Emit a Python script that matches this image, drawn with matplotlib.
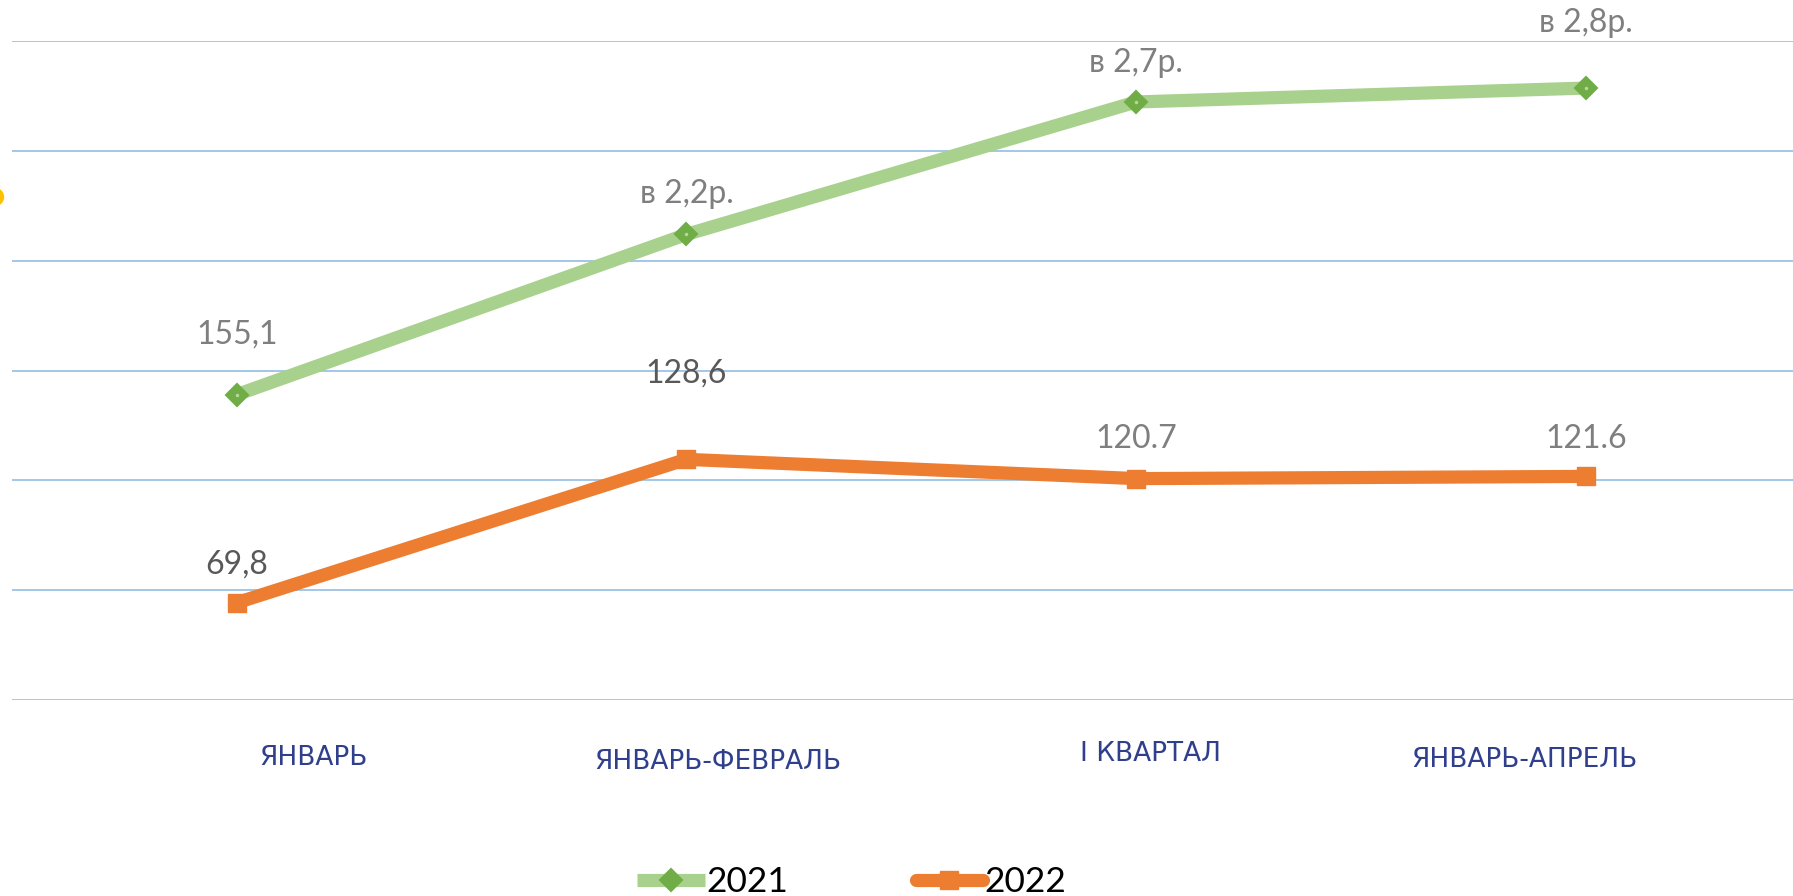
import matplotlib
matplotlib.use('Agg')
import matplotlib.pyplot as plt
from matplotlib.patches import Circle

categories = ['ЯНВАРЬ', 'ЯНВАРЬ-ФЕВРАЛЬ', 'I КВАРТАЛ', 'ЯНВАРЬ-АПРЕЛЬ']
series_names = ['2021', '2022']
vals_2021 = [155.1, 220.8, 275.1, 280.8]
vals_2022 = [69.8, 128.6, 120.7, 121.6]
labels_2021 = ['155,1', 'в 2,2р.', 'в 2,7р.', 'в 2,8р.']
labels_2022 = ['69,8', '128,6', '120.7', '121.6']

# label offsets above the points, in pixels (placed by hand in the original)
off_2021 = [60, 40, 39, 65]
off_2022 = [38, 86, 40, 37]
# category label shifts (x, y) in pixels, also hand placed in the original
cat_dx = [77, 31, 14, -61]
cat_dy = [-58, -62, -54, -60]

green_line = '#a9d18e'
green_mark = '#70ad47'
orange = '#ed7d31'
grid_col = '#9dc3e6'
cat_col = '#2f3f8c'

fig = plt.figure(figsize=(17.93, 8.96), dpi=100)
ax = fig.add_axes([0.00658, 0.2189, 1.0033, 0.7351])

x = list(range(len(categories)))

l1, = ax.plot(x, vals_2021, color=green_line, lw=9.5, marker='D', ms=11.5,
              mfc=green_mark, mec=green_mark, mew=1.5, solid_capstyle='butt',
              label=series_names[0], zorder=3)
ax.plot(x, vals_2021, ls='none', marker='o', ms=2.5, mfc='#b5d99c', mec='none', zorder=4)
l2, = ax.plot(x, vals_2022, color=orange, lw=9.5, marker='s', ms=13,
              mfc=orange, mec=orange, solid_capstyle='round',
              label=series_names[1], zorder=3)

for i in x:
    ax.annotate(labels_2021[i], (i, vals_2021[i]), xytext=(0, off_2021[i]),
                textcoords='offset pixels', ha='center', va='center',
                fontsize=23, color='#7f7f7f', family='Lato', annotation_clip=False)
    c = '#595959' if i < 2 else '#7f7f7f'
    ax.annotate(labels_2022[i], (i, vals_2022[i]), xytext=(0, off_2022[i]),
                textcoords='offset pixels', ha='center', va='center',
                fontsize=23, color=c, family='Lato', annotation_clip=False)
    ax.annotate(categories[i], (i, 0), xycoords=('data', 'axes fraction'),
                xytext=(cat_dx[i], cat_dy[i]), textcoords='offset pixels',
                ha='center', va='center', fontsize=19, color=cat_col,
                family=['Liberation Sans Narrow', 'DejaVu Sans'], annotation_clip=False)

ax.set_xlim(-0.5, 3.5)
ax.set_ylim(30, 300)
ax.set_yticks([30, 75, 120, 165, 210, 255, 300])
ax.yaxis.grid(True, color=grid_col, lw=1.3)
ax.set_axisbelow(True)
ax.tick_params(axis='y', left=False, labelleft=False)
ax.set_xticks(x)
ax.tick_params(axis='x', length=0, labelbottom=False)
for s in ax.spines.values():
    s.set_visible(False)

ax.legend(handles=[l1, l2], loc='center', bbox_to_anchor=(852 / 1793, 14 / 896),
          bbox_transform=fig.transFigure, ncol=2, frameon=False,
          handlelength=1.9, handletextpad=0.05, columnspacing=3.6,
          prop={'family': 'Lato', 'size': 25.5})

# small yellow element cut off at the left edge (inches from bottom-left)
fig.patches.append(Circle((-0.05, (896 - 197) / 100), 0.085, transform=fig.dpi_scale_trans,
                          color='#ffc000', figure=fig))

fig.savefig('out.png', dpi=100)
